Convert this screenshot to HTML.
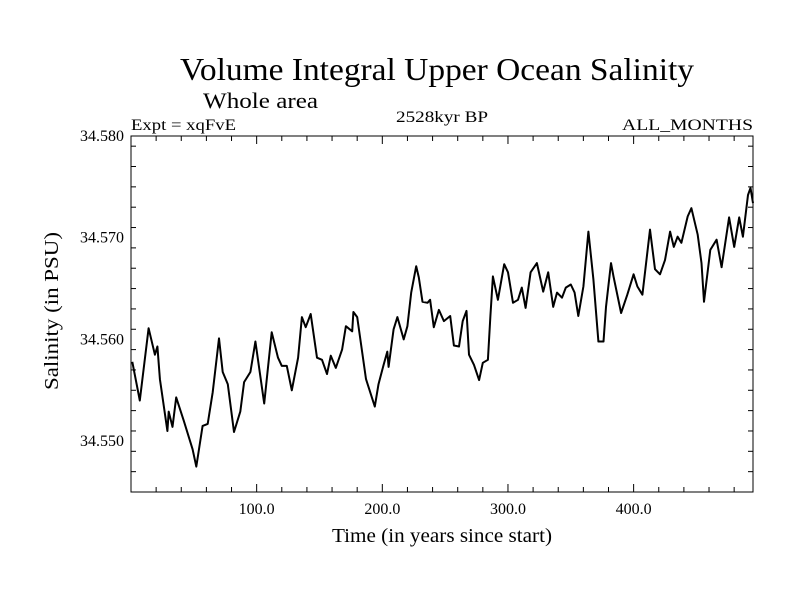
<!DOCTYPE html>
<html><head><meta charset="utf-8"><style>
body{margin:0;background:#fff;}
svg text{font-family:"Liberation Serif",serif;fill:#000;}
</style></head><body>
<svg id="chart" width="800" height="600" xmlns="http://www.w3.org/2000/svg">
<rect width="800" height="600" fill="#fff"/>
<text x="180" y="80" font-size="32" textLength="514" lengthAdjust="spacingAndGlyphs">Volume Integral Upper Ocean Salinity</text>
<text x="203" y="108" font-size="22" textLength="115" lengthAdjust="spacingAndGlyphs">Whole area</text>
<text x="131" y="130" font-size="16" textLength="105" lengthAdjust="spacingAndGlyphs">Expt = xqFvE</text>
<text x="396" y="122" font-size="16" textLength="92" lengthAdjust="spacingAndGlyphs">2528kyr BP</text>
<text x="622" y="130" font-size="16" textLength="131" lengthAdjust="spacingAndGlyphs">ALL_MONTHS</text>
<text x="332" y="542" font-size="20" textLength="220" lengthAdjust="spacingAndGlyphs">Time (in years since start)</text>
<text transform="translate(58,390) rotate(-90)" font-size="20" textLength="158" lengthAdjust="spacingAndGlyphs">Salinity (in PSU)</text>
<g id="axes"></g>
<path id="line" fill="none" stroke="#000" stroke-width="2" stroke-linejoin="round"/>
</svg>
<script>
const years=[1,7,14,19,21,23,29,30,33,36,42,49,52,57,61,65,70,73,77,82,87,90,95,99,106,112,117,120,124,128,133,136,139,143,148,152,156,159,163,168,171,176,177,180,187,194,197,201,204,205,209,212,217,220,223,227,229,232,236,238,241,245,249,254,257,261,264,267,269,273,277,280,284,286,288,292,297,300,304,308,311,314,318,323,328,332,336,339,343,346,350,353,356,360,364,368,372,376,378,382,384,390,395,400,403,407,413,417,421,425,429,432,435,438,443,446,451,454,456,461,466,470,476,480,484,487,491,493,495];
const salinity=[34.5578,34.5540,34.5611,34.5585,34.5593,34.5561,34.5510,34.5529,34.5514,34.5543,34.5520,34.5492,34.5475,34.5515,34.5517,34.5548,34.5601,34.5568,34.5556,34.5509,34.5529,34.5558,34.5568,34.5598,34.5537,34.5607,34.5582,34.5574,34.5574,34.5550,34.5582,34.5622,34.5612,34.5625,34.5582,34.5580,34.5566,34.5584,34.5572,34.5590,34.5613,34.5608,34.5627,34.5622,34.5561,34.5534,34.5556,34.5575,34.5588,34.5573,34.5610,34.5622,34.5600,34.5613,34.5646,34.5672,34.5661,34.5637,34.5636,34.5639,34.5612,34.5629,34.5618,34.5623,34.5594,34.5593,34.5618,34.5628,34.5585,34.5575,34.5560,34.5577,34.5580,34.5623,34.5662,34.5639,34.5674,34.5666,34.5636,34.5639,34.5651,34.5631,34.5666,34.5675,34.5647,34.5666,34.5632,34.5646,34.5641,34.5651,34.5654,34.5646,34.5623,34.5652,34.5706,34.5659,34.5598,34.5598,34.5632,34.5675,34.5662,34.5626,34.5644,34.5664,34.5652,34.5644,34.5708,34.5669,34.5664,34.5678,34.5706,34.5691,34.5701,34.5695,34.5721,34.5729,34.5703,34.5675,34.5637,34.5688,34.5698,34.5671,34.5720,34.5691,34.5720,34.5701,34.5742,34.5749,34.5734];
const xTicks=[100,200,300,400];
const xTickLabels=["100.0","200.0","300.0","400.0"];
const yTicks=[34.55,34.56,34.57,34.58];
const yTickLabels=["34.550","34.560","34.570","34.580"];
const L=131,R=753,T=136,B=492,X0=0,X1=495,Y0=34.545,Y1=34.58;
const sx=v=>L+(v-X0)/(X1-X0)*(R-L);
const sy=v=>B-(v-Y0)/(Y1-Y0)*(B-T);
const NS="http://www.w3.org/2000/svg";
const g=document.getElementById('axes');
function ln(x1,y1,x2,y2,name){const e=document.createElementNS(NS,'line');e.setAttribute('x1',x1);e.setAttribute('y1',y1);e.setAttribute('x2',x2);e.setAttribute('y2',y2);e.setAttribute('stroke','#000');e.setAttribute('stroke-width','1');


g.appendChild(e);}
const fr=document.createElementNS(NS,'rect');
fr.setAttribute('x',L);fr.setAttribute('y',T);fr.setAttribute('width',R-L);fr.setAttribute('height',B-T);fr.setAttribute('fill','none');fr.setAttribute('stroke','#000');


g.appendChild(fr);
for(let v=20;v<X1;v+=20){const x=sx(v);const major=v%100===0;const len=major?8:5;ln(x,B,x,B-len,'x-tick');ln(x,T,x,T+len,'x-tick-top');}
for(let i=0;i<xTicks.length;i++){const t=document.createElementNS(NS,'text');t.setAttribute('x',sx(xTicks[i]));t.setAttribute('y',B+22);t.setAttribute('font-size','16');t.setAttribute('text-anchor','middle');t.textContent=xTickLabels[i];


g.appendChild(t);}
for(let k=0;k<=17;k++){const v=Y0+k*0.002;const y=sy(v);const major=Math.abs(((v-34.55)/0.01)-Math.round((v-34.55)/0.01))<1e-6;const len=major?8:5;ln(L,y,L+len,y,'y-tick');ln(R,y,R-len,y,'y-tick-right');}
for(let i=0;i<yTicks.length;i++){const t=document.createElementNS(NS,'text');t.setAttribute('x',L-7);t.setAttribute('y',sy(yTicks[i])+5);t.setAttribute('font-size','16');t.setAttribute('text-anchor','end');t.textContent=yTickLabels[i];


g.appendChild(t);}
let d='';for(let i=0;i<years.length;i++){d+=(i?'L':'M')+sx(years[i]).toFixed(1)+','+sy(salinity[i]).toFixed(1);}
document.getElementById('line').setAttribute('d',d);
</script>
</body></html>
